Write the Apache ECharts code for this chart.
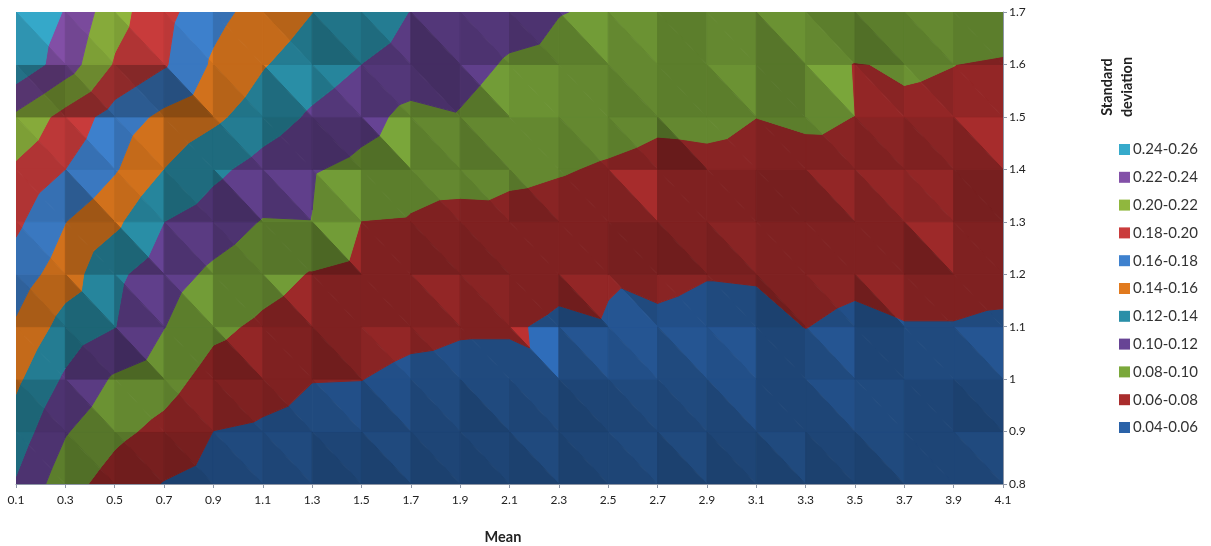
<!DOCTYPE html>
<html><head><meta charset="utf-8">
<style>html,body{margin:0;padding:0;background:#fff}#c{width:1211px;height:546px}</style>
<script src="https://cdn.jsdelivr.net/npm/echarts@6/dist/echarts.min.js"></script>
</head><body><div id="c"></div>
<script>
const means=[0.1,0.3,0.5,0.7,0.9,1.1,1.3,1.5,1.7,1.9,2.1,2.3,2.5,2.7,2.9,3.1,3.3,3.5,3.7,3.9,4.1];
const sdLevels=[0.8,0.9,1.0,1.1,1.2,1.3,1.4,1.5,1.6,1.7];
// surface values: one array per mean, ordered by sdLevels
const at01=[.1181,.1308,.1437,.1573,.1707,.1839,.1968,.216,.254,.258];
const at03=[.088,.1015,.1167,.1322,.1493,.1603,.18,.193,.2303,.2387];
const at05=[.0709,.0849,.0973,.1205,.1243,.1441,.1618,.1712,.198,.2071];
const at07=[.059,.0743,.0881,.1005,.1084,.12,.1397,.1552,.182,.186];
const at09=[.052,.0598,.0721,.0843,.0962,.1097,.1246,.1439,.1569,.1663];
const at11=[.0475,.0573,.0669,.0765,.0871,.0989,.1124,.1301,.1413,.1518];
const at13=[.047,.0535,.0605,.0699,.0787,.0995,.1017,.117,.1303,.1402];
const at15=[.046,.053,.0602,.0669,.0733,.0797,.0946,.1072,.1199,.1298];
const at17=[.045,.0505,.0565,.0637,.071,.0785,.0872,.094,.113,.1195];
const at19=[.0445,.05,.0555,.0615,.0665,.0748,.0864,.0987,.1062,.1133];
const at21=[.044,.0495,.055,.0615,.0685,.0754,.0831,.0907,.098,.107];
const at23=[.0435,.049,.0578,.0574,.0639,.0743,.081,.0875,.0955,.1005];
const at25=[.043,.0485,.0535,.0593,.0607,.0725,.0785,.0855,.092,.098];
const at27=[.0425,.048,.053,.058,.0625,.0695,.076,.0825,.09,.097];
const at29=[.042,.0475,.053,.0565,.0605,.0685,.0765,.0835,.0895,.096];
const at31=[.0415,.047,.052,.0565,.061,.0675,.075,.0801,.087,.095];
const at33=[.041,.047,.0535,.0602,.0645,.0705,.0768,.0815,.086,.094];
const at35=[.041,.047,.0525,.0575,.0625,.071,.077,.0799,.0795,.094];
const at37=[.0405,.0465,.0525,.0594,.0648,.0725,.0755,.0782,.0812,.093];
const at39=[.04,.0465,.052,.0594,.0648,.071,.0745,.0775,.0801,.092];
const at41=[.04,.046,.0515,.0578,.0642,.0695,.073,.076,.0782,.09];
const surface=[at01,at03,at05,at07,at09,at11,at13,at15,at17,at19,at21,at23,at25,at27,at29,at31,at33,at35,at37,at39,at41];
const bandLabels=['0.04-0.06','0.06-0.08','0.08-0.10','0.10-0.12','0.12-0.14','0.14-0.16','0.16-0.18','0.18-0.20','0.20-0.22','0.22-0.24','0.24-0.26'];
const bandEdges=[0.04,0.06,0.08,0.10,0.12,0.14,0.16,0.18,0.20,0.22,0.24,0.26];
const bandColors=['#2A62A8','#A92C2C','#7BA83B','#674495','#298FA8','#E17A1E','#3E81CE','#CA3C3C','#90B73E','#8350A8','#36AACB'];
// facet lighting per cell (upper and lower triangle), from the sd 0.8 row upward
const litUpper=['54445545445455454545','57665566555455646544','7475755765b777747457','68885855765756556755','85975485555545655585','78858885666595547774','89857449666666656669','25387986387665749667','98997667665875675565'];
const litLower=['53334433333343333344','44654454434344444543','73253536555565645455','54555455555376535355','75454425445543455535','74743565554555544564','77755433546552655555','33426565447655546777','77787745354565646355'];

function facets(){
  const out=[];
  for(let r=0;r<sdLevels.length-1;r++)for(let c=0;c<means.length-1;c++){
    const TL=[c,r+1],TR=[c+1,r+1],BL=[c,r],BR=[c+1,r];
    out.push({v:[TL,TR,BR],d:parseInt(litUpper[r][c],16)});
    out.push({v:[TL,BL,BR],d:parseInt(litLower[r][c],16)});
  }
  return out;
}
const tris=facets();
function clip(poly,level,keepAbove){
  const res=[];
  for(let i=0;i<poly.length;i++){
    const a=poly[i],b=poly[(i+1)%poly.length];
    const ina=keepAbove?a[2]>=level:a[2]<=level, inb=keepAbove?b[2]>=level:b[2]<=level;
    if(ina)res.push(a);
    if(ina!==inb){const t=(level-a[2])/(b[2]-a[2]);res.push([a[0]+t*(b[0]-a[0]),a[1]+t*(b[1]-a[1]),level]);}
  }
  return res;
}
function shade(hex,d){
  const f=d<5?0.75-(5-d)*0.045:0.75+(d-5)*0.06,n=parseInt(hex.slice(1),16);
  return 'rgb('+[(n>>16)&255,(n>>8)&255,n&255].map(x=>Math.min(255,Math.round(x*f))).join(',')+')';
}
const series=bandLabels.map((name,b)=>({
  name,type:'custom',coordinateSystem:'cartesian2d',silent:true,animation:false,clip:true,
  itemStyle:{color:bandColors[b]},
  data:tris.map((t,i)=>[i]),encode:{x:0,y:0},
  renderItem(params,api){
    const t=tris[api.value(0)];
    let poly=t.v.map(([c,r])=>[means[c],sdLevels[r],surface[c][r]]);
    if(b>0)poly=clip(poly,bandEdges[b],true);
    if(poly.length&&b<bandLabels.length-1)poly=clip(poly,bandEdges[b+1],false);
    if(poly.length<3)return null;
    const col=shade(bandColors[b],t.d);
    return {type:'polygon',shape:{points:poly.map(p=>api.coord([p[0],p[1]]))},style:{fill:col,stroke:col,lineWidth:1}};
  }
}));
const font='Lato, "Open Sans", sans-serif';
const chart=echarts.init(document.getElementById('c'),null,{renderer:'canvas'});
chart.setOption({
  animation:false,backgroundColor:'#fff',
  grid:{left:16,right:208,top:12,bottom:62,containLabel:false,outerBoundsMode:'none'},
  xAxis:{type:'value',min:0.1,max:4.1,interval:0.2,
    axisLine:{show:true,lineStyle:{color:'#8d96a6'}},axisTick:{show:true,length:4,lineStyle:{color:'#8d96a6'}},
    axisLabel:{fontFamily:font,fontSize:12,color:'#222',margin:10,formatter:v=>v.toFixed(1),showMinLabel:true,showMaxLabel:true},splitLine:{show:false}},
  yAxis:{type:'value',position:'right',min:0.8,max:1.7,interval:0.1,
    axisLine:{show:true,lineStyle:{color:'#8d96a6'}},axisTick:{show:true,length:4,lineStyle:{color:'#8d96a6'}},
    axisLabel:{fontFamily:font,fontSize:12,color:'#222',margin:6,formatter:v=>String(+v.toFixed(1))},splitLine:{show:false}},
  legend:{orient:'vertical',left:1114,top:137,selectedMode:false,icon:'rect',itemWidth:11,itemHeight:11,itemGap:12.8,
    data:bandLabels.slice().reverse(),textStyle:{fontFamily:font,fontSize:15,color:'#333',padding:[0,0,0,-2]}},
  graphic:[
    {type:'text',x:503,y:537,style:{text:'Mean',font:'bold 14.5px '+font,align:'center',verticalAlign:'middle',fill:'#222'}},
    {type:'text',rotation:Math.PI/2,x:1117,y:87,style:{text:'Standard\ndeviation',font:'bold 14.5px '+font,align:'center',verticalAlign:'middle',lineHeight:20,fill:'#222'}}],
  series
});
</script></body></html>
